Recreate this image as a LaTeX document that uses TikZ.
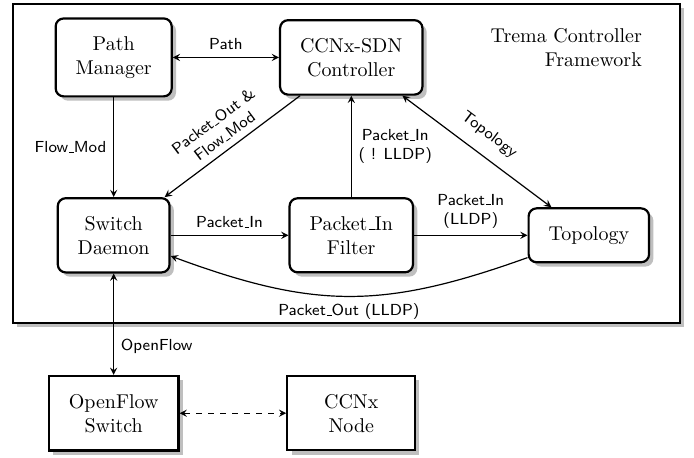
\documentclass[tikz,border=0pt]{standalone}
\usetikzlibrary{shadows}
\newcommand\usc{\leavevmode\kern.06em\vbox{\hrule width.3em}}
\begin{document}
\begin{tikzpicture}[>=stealth, semithick,
	box/.style={draw, line width=1.1pt, fill=white, rounded corners=4pt, drop shadow, inner xsep=10pt, inner ysep=9pt, align=center},
	plain/.style={box, sharp corners, minimum width=64pt},
	lbl/.style={font=\sffamily\footnotesize, align=center}]
	\useasboundingbox (-2.00,-0.78) rectangle (10.21,7.27);
	\draw[line width=1.1pt, fill=white, drop shadow] (-1.77,1.59) rectangle (9.96,7.20);
	\node[anchor=north east, align=right] (trema) at (9.42,6.90) {Trema Controller\\Framework};
	
	\node[box] (pm) at (0,6.26) {Path\\Manager};
	\node[box] (ctrl) at (4.18,6.26) {CCNx-SDN\\Controller};
	\node[box] (sd) at (0,3.13) {Switch\\Daemon};
	\node[box] (filter) at (4.18,3.13) {Packet\usc In\\Filter};
	\node[box] (topo) at (8.36,3.13) {Topology};
	\node[plain] (ofs) at (0,0) {OpenFlow\\Switch};
	\node[plain] (ccnx) at (4.18,0) {CCNx\\Node};
	
	\draw[<->] (pm) -- node[lbl, above] {Path} (ctrl);
	\draw[->] (pm) -- node[lbl, left] {Flow\usc Mod} (sd);
	\draw[->] (ctrl) -- node[lbl, sloped, above] {Packet\usc Out \&\\Flow\usc Mod} (sd);
	\draw[<->] (ctrl) -- node[lbl, sloped, above=3pt] {Topology} (topo);
	\draw[->] (filter) -- node[lbl, right] {Packet\usc In\\( ! LLDP)} (ctrl);
	\draw[->] (sd) -- node[lbl, above] {Packet\usc In} (filter);
	\draw[->] (filter) -- node[lbl, above] {Packet\usc In\\(LLDP)} (topo);
	\draw[->] (topo) to[bend left=20, looseness=1.1] node[lbl, below] {Packet\usc Out (LLDP)} (sd);
	\draw[<->] (sd) -- node[lbl, right, pos=0.72] {OpenFlow} (ofs);
	\draw[<->, dashed] (ofs) -- (ccnx);
\end{tikzpicture}
\end{document}
